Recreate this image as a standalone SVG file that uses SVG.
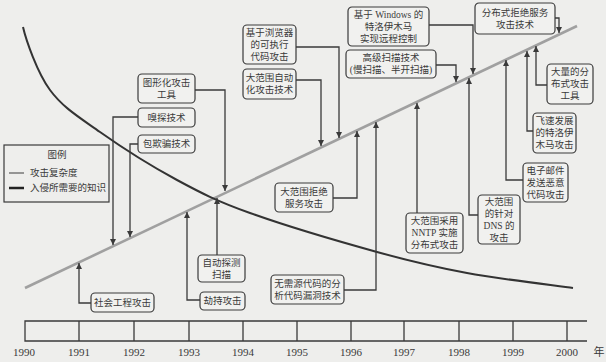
<svg xmlns="http://www.w3.org/2000/svg" width="606" height="362" viewBox="0 0 606 362">
<defs>
<style>
.bg{fill:#eeeeec}
.box{fill:#f1f1ef;stroke:#3a3a3a;stroke-width:1.2}
.t{font-family:"Liberation Serif","Noto Sans CJK SC",serif;font-size:9.5px;fill:#3a3a3a;text-anchor:middle;dominant-baseline:central}
.lg{font-family:"Liberation Serif","Noto Sans CJK SC",serif;font-size:9.5px;fill:#3a3a3a;dominant-baseline:central}
.yr{font-family:"Liberation Serif","Noto Sans CJK SC",serif;font-size:11px;fill:#3a3a3a;text-anchor:middle}
.conn{fill:none;stroke:#3a3a3a;stroke-width:1.3;marker-end:url(#ah)}
.bar{fill:none;stroke:#3a3a3a;stroke-width:1.3}
</style>
<marker id="ah" viewBox="0 0 10 10" refX="10" refY="5" markerWidth="6" markerHeight="6" markerUnits="userSpaceOnUse" orient="auto">
<path d="M0,0 L10,5 L0,10 z" fill="#3a3a3a"/>
</marker>
</defs>
<rect class="bg" x="0" y="0" width="606" height="362"/>

<g id="curves">
<path d="M25,288 L577,26" fill="none" stroke="#a0a0a0" stroke-width="2.6"/>
<path d="M23,27 C26,40 37.2,72.5 50,90 C62.8,107.5 78.8,117 100,132 C121.2,147 152,166.5 177,180 C202,193.5 216.7,201 250,213 C283.3,225 340.8,242 377,252 C413.2,262 434.3,267 467,273 C499.7,279 555.3,285.5 573,288" fill="none" stroke="#333" stroke-width="2"/>
</g>

<g id="legend">
<rect x="4" y="145" width="105" height="57" fill="none" stroke="#3a3a3a" stroke-width="1.2"/>
<text class="t" x="57" y="155">图例</text>
<line x1="9" y1="173" x2="24" y2="173" stroke="#777" stroke-width="1.5"/>
<text class="lg" x="30" y="173">攻击复杂度</text>
<line x1="9" y1="188" x2="24" y2="188" stroke="#222" stroke-width="2.5"/>
<text class="lg" x="30" y="188">入侵所需要的知识</text>
</g>

<g id="timeline">
<path class="bar" d="M587,321 H25 V341 H587"/>
<path class="bar" d="M79,321 V341 M134,321 V341 M189,321 V341 M243,321 V341 M297,321 V341 M351,321 V341 M404,321 V341 M459,321 V341 M513,321 V341 M567,321 V341"/>
<text class="yr" x="24" y="356">1990</text>
<text class="yr" x="79" y="356">1991</text>
<text class="yr" x="134" y="356">1992</text>
<text class="yr" x="189" y="356">1993</text>
<text class="yr" x="243" y="356">1994</text>
<text class="yr" x="297" y="356">1995</text>
<text class="yr" x="351" y="356">1996</text>
<text class="yr" x="404" y="356">1997</text>
<text class="yr" x="459" y="356">1998</text>
<text class="yr" x="513" y="356">1999</text>
<text class="yr" x="567" y="356">2000</text>
<text class="yr" x="599" y="356">年</text>
</g>

<g id="connectors">
<path class="conn" d="M195,90 H225 V191"/>
<path class="conn" d="M138,117 H113 V245"/>
<path class="conn" d="M138,144 H130 V237"/>
<path class="conn" d="M91,303 H79 V263"/>
<path class="conn" d="M200,300 H187 V212"/>
<path class="conn" d="M217,255 V198"/>
<path class="conn" d="M296,47 H339 V138"/>
<path class="conn" d="M296,80 H321 V146"/>
<path class="conn" d="M333,198 H357 V131"/>
<path class="conn" d="M344,290 H376 V122"/>
<path class="conn" d="M429,25 H473 V74"/>
<path class="conn" d="M436,65 H456 V82"/>
<path class="conn" d="M555,18 H559 V33"/>
<path class="conn" d="M547,85 H536 V46"/>
<path class="conn" d="M533,131 H527 V51"/>
<path class="conn" d="M523,180 H506 V60"/>
<path class="conn" d="M478,215 H469 V78"/>
<path class="conn" d="M417,213 V103"/>
</g>

<g id="n1"><rect class="box" x="138" y="74" width="57" height="29" rx="4"/><text class="t" x="166.5" y="83">图形化攻击</text><text class="t" x="166.5" y="95">工具</text></g>
<g id="n2"><rect class="box" x="138" y="108" width="57" height="19" rx="4"/><text class="t" x="166.5" y="117.5">嗅探技术</text></g>
<g id="n3"><rect class="box" x="138" y="135" width="57" height="18" rx="4"/><text class="t" x="166.5" y="144">包欺骗技术</text></g>
<g id="n4"><rect class="box" x="91" y="293" width="63" height="19" rx="4"/><text class="t" x="122.5" y="302.5">社会工程攻击</text></g>
<g id="n5"><rect class="box" x="200" y="292" width="45" height="18" rx="4"/><text class="t" x="222.5" y="301">劫持攻击</text></g>
<g id="n6"><rect class="box" x="198" y="255" width="47" height="27" rx="4"/><text class="t" x="221.5" y="262.5">自动探测</text><text class="t" x="221.5" y="274.5">扫描</text></g>
<g id="n7"><rect class="box" x="243" y="25" width="53" height="39" rx="4"/><text class="t" x="269.5" y="32.5">基于浏览器</text><text class="t" x="269.5" y="44.5">的可执行</text><text class="t" x="269.5" y="56.5">代码攻击</text></g>
<g id="n8"><rect class="box" x="243" y="69" width="53" height="30" rx="4"/><text class="t" x="269.5" y="78">大范围自动</text><text class="t" x="269.5" y="90">化攻击技术</text></g>
<g id="n9"><rect class="box" x="275" y="183" width="58" height="29" rx="4"/><text class="t" x="304" y="191.5">大范围拒绝</text><text class="t" x="304" y="203.5">服务攻击</text></g>
<g id="n10"><rect class="box" x="271" y="275" width="73" height="29" rx="4"/><text class="t" x="307.5" y="283.5">无需源代码的分</text><text class="t" x="307.5" y="295.5">析代码漏洞技术</text></g>
<g id="n11"><rect class="box" x="348" y="7" width="81" height="39" rx="4"/><text class="t" x="388.5" y="14.5">基于 Windows 的</text><text class="t" x="388.5" y="26.5">特洛伊木马</text><text class="t" x="388.5" y="38.5">实现远程控制</text></g>
<g id="n12"><rect class="box" x="346" y="50" width="90" height="28" rx="4"/><text class="t" x="391" y="58">高级扫描技术</text><text class="t" x="391" y="70">(慢扫描、半开扫描)</text></g>
<g id="n13"><rect class="box" x="475" y="3" width="80" height="31" rx="4"/><text class="t" x="515" y="12.5">分布式拒绝服务</text><text class="t" x="515" y="24.5">攻击技术</text></g>
<g id="n14"><rect class="box" x="547" y="64" width="46" height="40" rx="4"/><text class="t" x="570" y="72">大量的分</text><text class="t" x="570" y="84">布式攻击</text><text class="t" x="570" y="96">工具</text></g>
<g id="n15"><rect class="box" x="533" y="113" width="43" height="40" rx="4"/><text class="t" x="554.5" y="121">飞速发展</text><text class="t" x="554.5" y="133">的特洛伊</text><text class="t" x="554.5" y="145">木马攻击</text></g>
<g id="n16"><rect class="box" x="523" y="163" width="45" height="39" rx="4"/><text class="t" x="545.5" y="170.5">电子邮件</text><text class="t" x="545.5" y="182.5">发送恶意</text><text class="t" x="545.5" y="194.5">代码攻击</text></g>
<g id="n17"><rect class="box" x="478" y="195" width="42" height="49" rx="4"/><text class="t" x="499" y="201.5">大范围</text><text class="t" x="499" y="213.5">的针对</text><text class="t" x="499" y="225.5">DNS 的</text><text class="t" x="499" y="237.5">攻击</text></g>
<g id="n18"><rect class="box" x="406" y="213" width="57" height="40" rx="4"/><text class="t" x="434.5" y="221">大范围采用</text><text class="t" x="434.5" y="233">NNTP 实施</text><text class="t" x="434.5" y="245">分布式攻击</text></g>
</svg>
